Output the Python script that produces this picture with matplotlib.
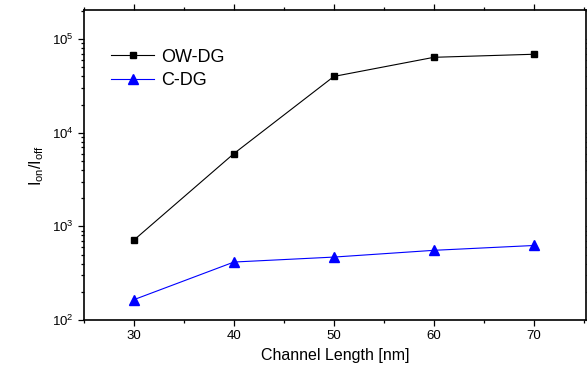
import matplotlib
matplotlib.use('Agg')
import matplotlib.pyplot as plt
from matplotlib.ticker import LogLocator, MultipleLocator

plt.rcParams['font.family'] = ['Liberation Sans', 'DejaVu Sans']
plt.rcParams['mathtext.fontset'] = 'custom'
plt.rcParams['mathtext.rm'] = 'Liberation Sans'
plt.rcParams['mathtext.it'] = 'Liberation Sans'
plt.rcParams['mathtext.default'] = 'regular'

# Dados
comprimento = [30, 40, 50, 60, 70]
ow_dg = [715, 6000, 40000, 64000, 69000]
c_dg = [165, 416, 470, 555, 625]

fig = plt.figure(figsize=(5.87, 3.71), dpi=100)
ax = fig.add_axes([0.1431, 0.1375, 0.855, 0.8356])

ax.plot(comprimento, ow_dg, color='black', marker='s', markersize=5, linewidth=0.8, label='OW-DG')
ax.plot(comprimento, c_dg, color='blue', marker='^', markersize=6.5, linewidth=0.8, label='C-DG')

ax.set_yscale('log')
ax.set_xlim(25, 75.2)
ax.set_ylim(100, 2.05e5)
ax.set_xticks([30, 40, 50, 60, 70])
ax.xaxis.set_minor_locator(MultipleLocator(5))
ax.yaxis.set_major_locator(LogLocator(base=10, numticks=10))
ax.yaxis.set_minor_locator(LogLocator(base=10, subs=range(2, 10), numticks=20))

ax.tick_params(which='both', direction='out', top=True, right=True, labelsize=9.5, width=0.9)
ax.tick_params(which='major', length=4)
ax.tick_params(which='minor', length=2.5)
for s in ax.spines.values():
    s.set_linewidth(1.2)

ax.set_xlabel('Channel Length [nm]', fontsize=11.5, labelpad=4)
ax.set_ylabel('I$_{on}$/I$_{off}$', fontsize=11.5, labelpad=4)

ax.legend(loc='upper left', bbox_to_anchor=(0.054, 0.875), frameon=False, fontsize=13,
          borderpad=0, borderaxespad=0, handlelength=2.4, handletextpad=0.35,
          labelspacing=0.35)

plt.savefig('out.png', dpi=100)
